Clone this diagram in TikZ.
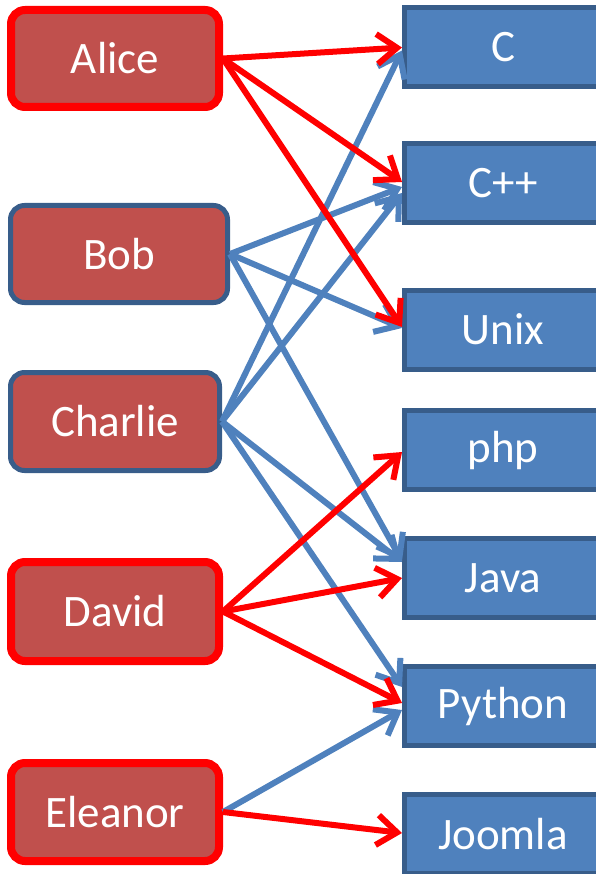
\documentclass[tikz,border=0pt]{standalone}
\usepackage{fontspec}
\setmainfont{Carlito}
\usetikzlibrary{arrows.meta}
\definecolor{Person}{HTML}{C0504D}
\definecolor{Skill}{HTML}{4F81BD}
\definecolor{Frame}{HTML}{385D8A}
\definecolor{Hot}{HTML}{FF0000}

\begin{document}
\begin{tikzpicture}[x=1pt,y=-1pt,
  person/.style={fill=Person,rounded corners=14pt,text=white,
    font=\fontsize{45}{54}\selectfont,minimum width=208pt,minimum height=97pt,inner sep=0pt},
  hot/.style={draw=Hot,line width=8pt},
  cool/.style={draw=Frame,line width=5pt},
  skill/.style={draw=Frame,fill=Skill,line width=5pt,text=white,
    font=\fontsize{45}{54}\selectfont,minimum width=197pt,minimum height=79pt,inner sep=0pt},
  link/.style={line width=6pt,-{Straight Barb[length=20pt,width=30pt]}},
  redlink/.style={link,draw=Hot},
  bluelink/.style={link,draw=Skill}]
  \useasboundingbox (0,0) rectangle (596,874);
  % people
  \node[person,hot] (alice) at (115,58.5) {Alice};
  \node[person,cool,minimum width=217pt] (bob) at (119,254) {Bob};
  \node[person,cool,minimum width=209pt,minimum height=98pt] (charlie) at (115,421.5) {Charlie};
  \node[person,hot,minimum height=99pt] (david) at (115,611.5) {David};
  \node[person,hot,minimum height=98pt] (eleanor) at (115,812) {Eleanor};
  % skills
  \node[skill] (c) at (503,47.5) {C};
  \node[skill] (cpp) at (503,183.5) {C++};
  \node[skill] (unix) at (503,329.5) {Unix};
  \node[skill] (php) at (503,450) {php};
  \node[skill] (java) at (503,578) {Java};
  \node[skill] (python) at (503,706) {Python};
  \node[skill] (joomla) at (503,834) {Joomla};
  % links
  \draw[bluelink] (bob.east) -- ([yshift=-3.5pt]cpp.west);
  \draw[bluelink] (bob.east) -- ([yshift=1.5pt]unix.west);
  \draw[bluelink] (bob.east) -- ([yshift=17pt]java.west);
  \draw[bluelink] (charlie.east) -- ([yshift=-3pt]c.west);
  \draw[bluelink] (charlie.east) -- ([yshift=-9.5pt]cpp.west);
  \draw[bluelink] (charlie.east) -- ([yshift=16pt]java.west);
  \draw[bluelink] (charlie.east) -- ([yshift=19pt]python.west);
  \draw[bluelink] (eleanor.east) -- ([yshift=-4pt]python.west);
  \draw[redlink] (alice.east) -- (c.west);
  \draw[redlink] (alice.east) -- ([yshift=1.5pt]cpp.west);
  \draw[redlink] (alice.east) -- ([yshift=2.5pt]unix.west);
  \draw[redlink] (david.east) -- ([yshift=-2pt]php.west);
  \draw[redlink] (david.east) -- (java.west);
  \draw[redlink] (david.east) -- ([yshift=3pt]python.west);
  \draw[redlink] (eleanor.east) -- ([yshift=1pt]joomla.west);
\end{tikzpicture}
\end{document}
